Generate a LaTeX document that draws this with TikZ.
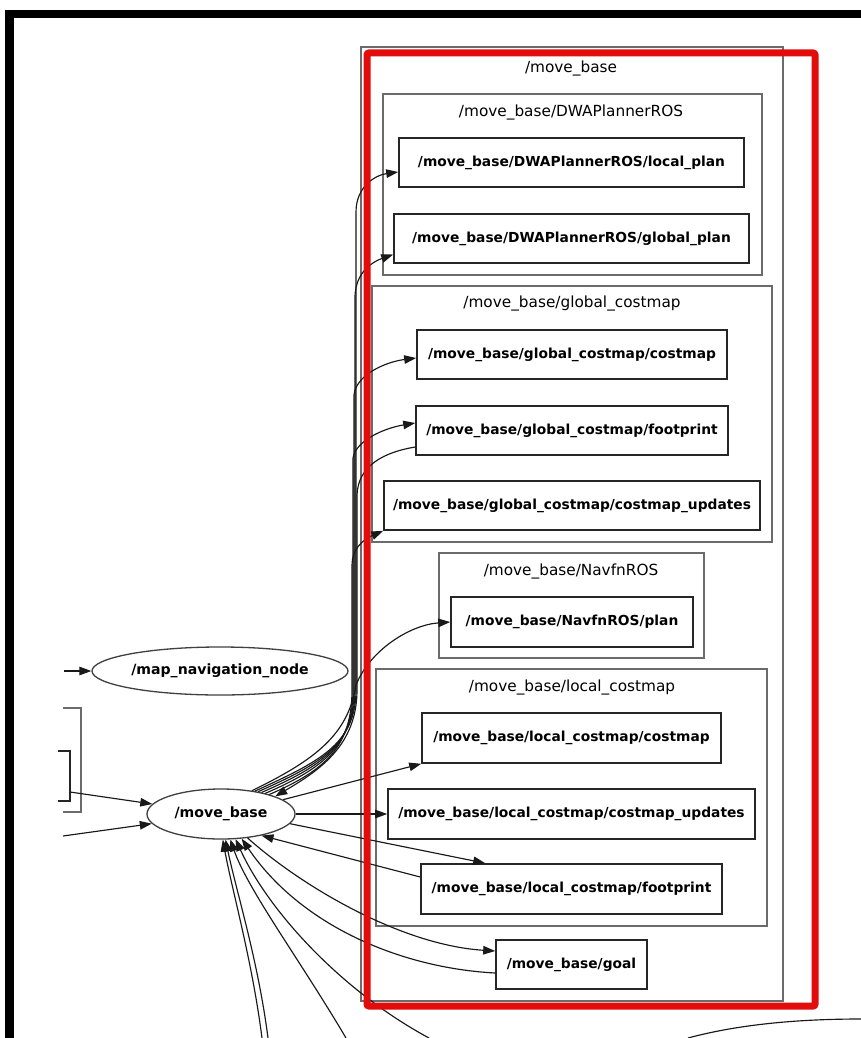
\documentclass[tikz,border=0pt]{standalone}
\usepackage{fontspec}
\newfontfamily\dvsans{DejaVu Sans}
\usetikzlibrary{arrows.meta,shapes.geometric,calc}
\definecolor{hilite}{RGB}{226,12,12}
\begin{document}
\begin{tikzpicture}[x=1pt,y=-1pt,
  topic/.style={draw=black!85, line width=1.6pt, rectangle, inner sep=0pt,
    font=\dvsans\bfseries\fontsize{13.8}{16}\selectfont},
  rosnode/.style={draw=black!75, line width=1.3pt, ellipse, inner sep=0pt,
    font=\dvsans\bfseries\fontsize{14.1}{16}\selectfont},
  cluster/.style={draw=black!58, line width=1.4pt},
  clusterlabel/.style={inner sep=0pt, font=\dvsans\fontsize{15.3}{17}\selectfont},
  conn/.style={draw=black!90, line width=1.15pt, -{Triangle[length=12pt,width=8.5pt]}},
  wire/.style={draw=black!90, line width=1.15pt},
]
\useasboundingbox (0,0) rectangle (861,1038);
\fill[white] (0,0) rectangle (861,1038);

% namespace clusters
\draw[cluster] (361,47) rectangle (783,1001);
\node[clusterlabel] (mbl) at (571,68) {/move\_base};
\draw[cluster] (383,94) rectangle (762,275);
\node[clusterlabel] (dwal) at (571,112) {/move\_base/DWAPlannerROS};
\draw[cluster] (372,286) rectangle (772,542);
\node[clusterlabel] (gcl) at (572,303) {/move\_base/global\_costmap};
\draw[cluster] (439,553) rectangle (704,658);
\node[clusterlabel] (navl) at (571,571) {/move\_base/NavfnROS};
\draw[cluster] (376,669) rectangle (767,926);
\node[clusterlabel] (lcl) at (572,687) {/move\_base/local\_costmap};

% partly visible clusters at the left
\draw[cluster] (63,708) -- (81,708) -- (81,812) -- (63,812);
\draw[draw=black!85, line width=1.6pt] (58,751) -- (70,751) -- (70,801) -- (58,801);

% topics
\node[topic, minimum width=345pt, minimum height=49pt] (lp) at (571.5,162.5) {/move\_base/DWAPlannerROS/local\_plan};
\node[topic, minimum width=355pt, minimum height=49pt] (gp) at (571.5,238.5) {/move\_base/DWAPlannerROS/global\_plan};
\node[topic, minimum width=310pt, minimum height=49pt] (gcm) at (572,354.5) {/move\_base/global\_costmap/costmap};
\node[topic, minimum width=312pt, minimum height=49pt] (gfp) at (572,430.5) {/move\_base/global\_costmap/footprint};
\node[topic, minimum width=376pt, minimum height=49pt] (gcu) at (572,505.5) {/move\_base/global\_costmap/costmap\_updates};
\node[topic, minimum width=242pt, minimum height=50pt] (np) at (572,622) {/move\_base/NavfnROS/plan};
\node[topic, minimum width=299pt, minimum height=50pt] (lcm) at (571.5,738) {/move\_base/local\_costmap/costmap};
\node[topic, minimum width=367pt, minimum height=50pt] (lcu) at (571.5,814) {/move\_base/local\_costmap/costmap\_updates};
\node[topic, minimum width=301pt, minimum height=50pt] (lfp) at (571.5,889) {/move\_base/local\_costmap/footprint};
\node[topic, minimum width=151pt, minimum height=49pt] (goal) at (571.5,964.5) {/move\_base/goal};

% ROS nodes
\node[rosnode, minimum width=256pt, minimum height=48pt] (mapnav) at (220,671) {/map\_navigation\_node};
\node[rosnode, minimum width=148pt, minimum height=50pt] (mb) at (221,814) {/move\_base};

% loose ends of edges leaving the view
\coordinate (mnin) at (64,671);
\coordinate (lbin) at (70,792);
\coordinate (loin) at (63,836);
\coordinate (s1) at (262,1038);
\coordinate (s2) at (268,1038);
\coordinate (s3) at (346,1038);
\coordinate (s4) at (429,1038);
\coordinate (rc1) at (688,1038);
\coordinate (rc2) at (861,1019);

% edges from the left
\draw[conn] (mnin) -- (mapnav);
\draw[conn] (lbin) -- (mb);
\draw[conn] (loin) -- (mb);

% bundle climbing along the cluster border
\draw[conn] (mb.34) .. controls (318,762) and (356,745) .. (356,690) -- (356,212)
  .. controls (356,186) and (376,175) .. ([yshift=-9.5pt]lp.west);
\draw[conn] (mb.31) .. controls (320,764) and (355,745) .. (355,690) -- (355,296)
  .. controls (356,272) and (372,262) .. ([yshift=-16pt]gp.west);
\draw[conn] (mb.28) .. controls (322,766) and (354,745) .. (354,690) -- (354,395)
  .. controls (356,375) and (385,362) .. ([yshift=-3.5pt]gcm.west);
\draw[conn] (mb.25) .. controls (324,768) and (353,745) .. (353,690) -- (353,458)
  .. controls (356,440) and (385,428) .. ([yshift=7.5pt]gfp.west);
\draw[conn] (mb.22) .. controls (326,770) and (352,746) .. (352,690) -- (352,565)
  .. controls (352,550) and (362,540) .. (gcu.south west);
\draw[conn] ([yshift=-16.5pt]gfp.west) .. controls (385,452) and (358,465) .. (357,495)
  -- (357,690) .. controls (357,745) and (320,770) .. (mb.18);
\draw[conn] (mb.37) .. controls (315,760) and (348,735) .. (356,685)
  .. controls (370,650) and (410,625) .. (np.west);

% edges to the local costmap topics and the goal
\draw[conn] (mb.13) -- (lcm.south west);
\draw[conn] (mb.east) -- (lcu.west);
\draw[conn] (mb.-8) -- ([xshift=65pt]lfp.north west);
\draw[conn] ([yshift=12pt]lfp.west) -- (mb.-28);
\draw[conn] (mb.-42) .. controls (300,885) and (400,945) .. ([yshift=13.5pt]goal.west);
\draw[conn] ([yshift=-8.5pt]goal.west) .. controls (400,968) and (300,925) .. (mb.-50);

% edges coming up from below
\draw[conn] (s1) .. controls (252,960) and (232,890) .. (mb.-86);
\draw[conn] (s2) .. controls (258,960) and (236,890) .. (mb.-80);
\draw[conn] (s3) .. controls (300,960) and (248,890) .. (mb.-70);
\draw[conn] (s4) .. controls (340,990) and (268,910) .. (mb.-60);
\draw[wire] (rc1) .. controls (740,1024) and (800,1019) .. (rc2);

% highlight frame
\draw[hilite, line width=7pt, rounded corners=2pt] (367,53) rectangle (815,1006);

% window frame
\fill[black] (5,10) rectangle (861,18);
\fill[black] (5,10) rectangle (14,1038);
\end{tikzpicture}
\end{document}
